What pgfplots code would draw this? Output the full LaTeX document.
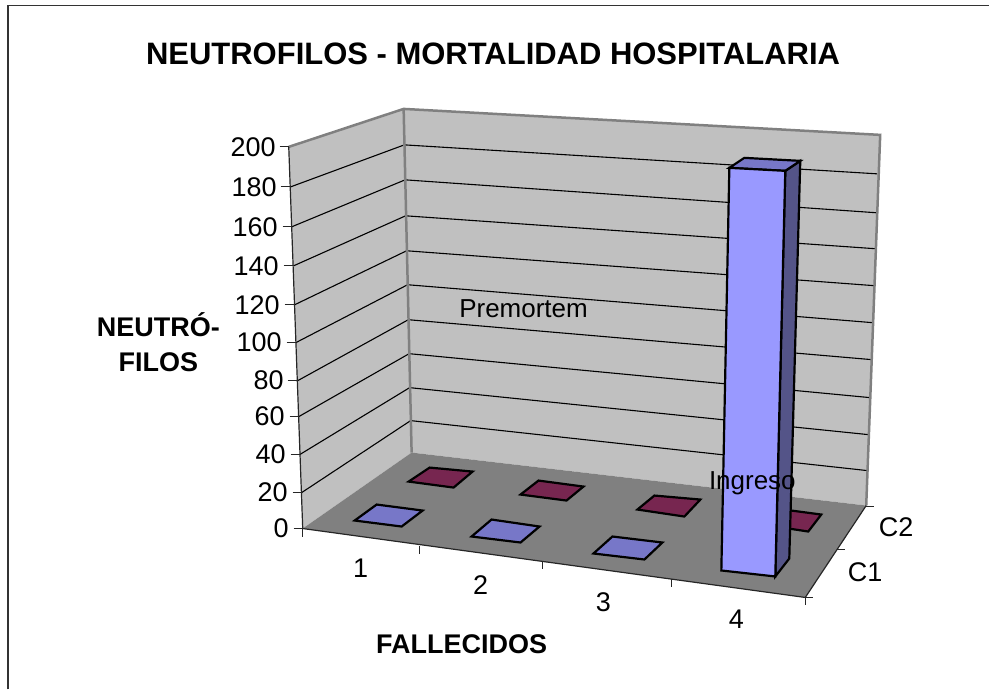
\documentclass[border=0pt]{standalone}
\usepackage{pgfplots}
\pgfplotsset{compat=1.18}
\usepackage{fontspec}
\setmainfont{Liberation Sans}
\definecolor{wall}{HTML}{C0C0C0}
\definecolor{floorc}{HTML}{808080}
\definecolor{barfront}{HTML}{9999FF}
\definecolor{barside}{HTML}{545488}
\definecolor{bartop}{HTML}{7777C8}
\definecolor{martop}{HTML}{772650}
\begin{document}
\begin{tikzpicture}[x=1pt,y=1pt]
\begin{axis}[
  at={(0,0)},anchor=south west,
  scale only axis,width=990pt,height=690pt,
  xmin=0,xmax=990,ymin=0,ymax=690,y dir=reverse,
  axis lines=none,clip=false,
  tick align=outside,
]
% page extent
\addplot[draw=none,mark=none] coordinates {(0,0)(990,690)};
% chart frame
\addplot[draw=black!80,line width=1.8pt,mark=none] coordinates {(8,690)(8,5.5)(990,5.5)};
% walls
\addplot[fill=wall,draw=none,mark=none] coordinates {(289,147)(404,109)(412,453)(303,529)} --cycle;
\addplot[fill=wall,draw=none,mark=none] coordinates {(404,109)(881,135)(867,506)(412,453)} --cycle;
% floor
\addplot[fill=floorc,draw=none,mark=none] coordinates {(303,529)(412,453)(867,506)(806,598)} --cycle;
% gridlines, left wall then back wall
\addplot[black,line width=1.1pt,mark=none] coordinates {(291,187)(404.7,145)(878,174)};
\addplot[black,line width=1.1pt,mark=none] coordinates {(292,227)(405.5,180)(878,213)};
\addplot[black,line width=1.1pt,mark=none] coordinates {(294,266)(406,216)(877,249)};
\addplot[black,line width=1.1pt,mark=none] coordinates {(295,305)(407,251)(876,286)};
\addplot[black,line width=1.1pt,mark=none] coordinates {(296,343)(408,285)(874,323)};
\addplot[black,line width=1.1pt,mark=none] coordinates {(298,381)(408.7,320)(873,360)};
\addplot[black,line width=1.1pt,mark=none] coordinates {(299,417)(409.5,354)(871,398)};
\addplot[black,line width=1.1pt,mark=none] coordinates {(300,455)(410,388)(869,435)};
\addplot[black,line width=1.1pt,mark=none] coordinates {(302,493)(411,421)(868,471)};
% wall outline
\addplot[floorc,line width=2.5pt,mark=none] coordinates {(289,147)(404,109)(881,135)(867,506)};
\addplot[floorc,line width=2.5pt,mark=none] coordinates {(404,109)(412,453)};
% value axis and floor edges
\addplot[black!85,line width=1.2pt,mark=none] coordinates {(289,147)(303,529)(806,598)(867,506)};
% value ticks
\addplot[black!85,line width=1.1pt,mark=none] coordinates {(280,147)(289,147)};
\addplot[black!85,line width=1.1pt,mark=none] coordinates {(281,187)(291,187)};
\addplot[black!85,line width=1.1pt,mark=none] coordinates {(283,227)(292,227)};
\addplot[black!85,line width=1.1pt,mark=none] coordinates {(284,266)(294,266)};
\addplot[black!85,line width=1.1pt,mark=none] coordinates {(285,305)(295,305)};
\addplot[black!85,line width=1.1pt,mark=none] coordinates {(287,343)(296,343)};
\addplot[black!85,line width=1.1pt,mark=none] coordinates {(288,381)(298,381)};
\addplot[black!85,line width=1.1pt,mark=none] coordinates {(290,417)(299,417)};
\addplot[black!85,line width=1.1pt,mark=none] coordinates {(291,455)(300,455)};
\addplot[black!85,line width=1.1pt,mark=none] coordinates {(293,493)(302,493)};
\addplot[black!85,line width=1.1pt,mark=none] coordinates {(294,529)(303,529)};
% category ticks
\addplot[black!85,line width=1.1pt,mark=none] coordinates {(303,529)(303,537)};
\addplot[black!85,line width=1.1pt,mark=none] coordinates {(420,546)(420,554)};
\addplot[black!85,line width=1.1pt,mark=none] coordinates {(543,563)(543,570)};
\addplot[black!85,line width=1.1pt,mark=none] coordinates {(672,580)(672,588)};
\addplot[black!85,line width=1.1pt,mark=none] coordinates {(806,598)(806,606)};
% depth ticks
\addplot[black!85,line width=1.1pt,mark=none] coordinates {(806,598)(814,598)};
\addplot[black!85,line width=1.1pt,mark=none] coordinates {(838,550)(846,550)};
\addplot[black!85,line width=1.1pt,mark=none] coordinates {(867,507)(875,507)};
% C2 series (back row)
\addplot[fill=martop,draw=black,line width=2.2pt,mark=none] coordinates {(409,482)(430,468)(473,472)(454,488)} --cycle;
\addplot[fill=martop,draw=black,line width=2.2pt,mark=none] coordinates {(521,495)(539,481)(584,487)(567,501)} --cycle;
\addplot[fill=martop,draw=black,line width=2.2pt,mark=none] coordinates {(638,510)(655,496)(701,500)(685,517)} --cycle;
\addplot[fill=martop,draw=black,line width=2.2pt,mark=none] coordinates {(763,525)(777,509)(822,515)(809,532)} --cycle;
% C1 series (front row)
\addplot[fill=bartop,draw=black,line width=2.2pt,mark=none] coordinates {(355,521)(377,505)(423,511)(402,527)} --cycle;
\addplot[fill=bartop,draw=black,line width=2.2pt,mark=none] coordinates {(472,537)(492,520)(540,527)(521,543)} --cycle;
\addplot[fill=bartop,draw=black,line width=2.2pt,mark=none] coordinates {(594,554)(613,537)(663,543)(645,560)} --cycle;
% tall bar
\addplot[fill=barside,draw=black,line width=2.2pt,mark=none] coordinates {(786,171)(801,161)(790,559)(776,577)} --cycle;
\addplot[fill=bartop,draw=black,line width=2.2pt,mark=none] coordinates {(730,168)(745,158)(801,161)(786,171)} --cycle;
\addplot[fill=barfront,draw=black,line width=2.2pt,mark=none] coordinates {(730,168)(786,171)(776,577)(722,571)} --cycle;
% texts
\node[font=\fontsize{31}{31}\selectfont\bfseries] at (axis cs:493.5,54) {NEUTROFILOS - MORTALIDAD HOSPITALARIA};
\node[font=\fontsize{27}{35}\selectfont\bfseries,align=center] at (axis cs:158.5,342) {NEUTRÓ-\\FILOS};
\node[font=\fontsize{27}{27}\selectfont\bfseries] at (axis cs:462,645) {FALLECIDOS};
\node[font=\fontsize{27}{27}\selectfont,inner sep=0pt,anchor=east] at (axis cs:276,147) {200};
\node[font=\fontsize{27}{27}\selectfont,inner sep=0pt,anchor=east] at (axis cs:277,187) {180};
\node[font=\fontsize{27}{27}\selectfont,inner sep=0pt,anchor=east] at (axis cs:278,227) {160};
\node[font=\fontsize{27}{27}\selectfont,inner sep=0pt,anchor=east] at (axis cs:279,266) {140};
\node[font=\fontsize{27}{27}\selectfont,inner sep=0pt,anchor=east] at (axis cs:280,305) {120};
\node[font=\fontsize{27}{27}\selectfont,inner sep=0pt,anchor=east] at (axis cs:282,343) {100};
\node[font=\fontsize{27}{27}\selectfont,inner sep=0pt,anchor=east] at (axis cs:284,381) {80};
\node[font=\fontsize{27}{27}\selectfont,inner sep=0pt,anchor=east] at (axis cs:285,417) {60};
\node[font=\fontsize{27}{27}\selectfont,inner sep=0pt,anchor=east] at (axis cs:286,455) {40};
\node[font=\fontsize{27}{27}\selectfont,inner sep=0pt,anchor=east] at (axis cs:288,493) {20};
\node[font=\fontsize{27}{27}\selectfont,inner sep=0pt,anchor=east] at (axis cs:289,529) {0};
\node[font=\fontsize{27}{27}\selectfont] at (axis cs:361,569) {1};
\node[font=\fontsize{27}{27}\selectfont] at (axis cs:481,586) {2};
\node[font=\fontsize{27}{27}\selectfont] at (axis cs:604,603) {3};
\node[font=\fontsize{27}{27}\selectfont] at (axis cs:737,620) {4};
\node[font=\fontsize{27}{27}\selectfont] at (axis cs:866,573) {C1};
\node[font=\fontsize{27}{27}\selectfont] at (axis cs:897,528) {C2};
\node[font=\fontsize{26}{26}\selectfont] at (axis cs:524,309) {Premortem};
\node[font=\fontsize{26}{26}\selectfont] at (axis cs:753,484) {Ingreso};
\end{axis}
\end{tikzpicture}
\end{document}
